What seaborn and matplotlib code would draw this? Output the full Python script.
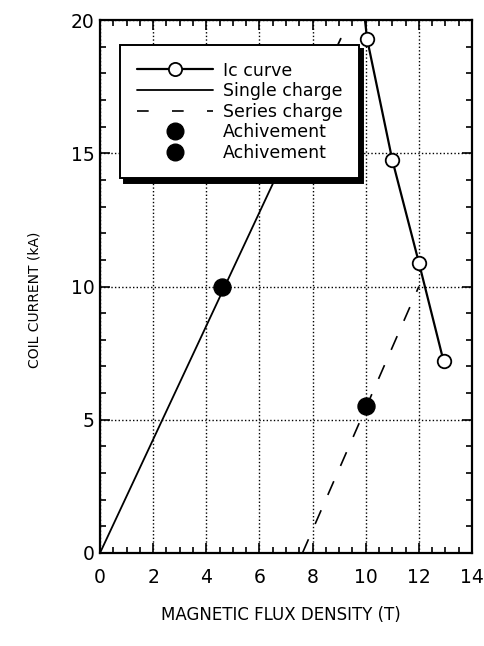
import matplotlib
matplotlib.use("Agg")
import matplotlib.pyplot as plt
import pandas as pd
import seaborn as sns
from matplotlib.lines import Line2D
from matplotlib.ticker import MultipleLocator

# Critical-current (Ic) curve of the coil conductor
ic_curve_b = [9.95, 10.05, 11.0, 12.0, 12.93]
ic_curve_i = [20.2, 19.3, 14.75, 10.9, 7.2]
ic_points_b = [10.05, 11.0, 12.0, 12.93]
ic_points_i = [19.3, 14.75, 10.9, 7.2]

# Load lines: coil charged alone and in series
single_b = [0.0, 9.06]
single_i = [0.0, 19.3]
series_b = [7.62, 12.0]
series_i = [0.0, 10.0]

# Reached operating points
ach_single_b = [4.6]
ach_single_i = [10.0]
ach_series_b = [10.0]
ach_series_i = [5.5]

x_ticks = [0, 2, 4, 6, 8, 10, 12, 14]
y_ticks = [0, 5, 10, 15, 20]
legend_labels = ["Ic curve", "Single charge", "Series charge", "Achivement", "Achivement"]

sns.set_theme(style="white")
plt.rcParams["font.family"] = ["DejaVu Sans"]
plt.rcParams["text.color"] = "black"
plt.rcParams["axes.labelcolor"] = "black"
plt.rcParams["xtick.color"] = "black"
plt.rcParams["ytick.color"] = "black"

fig = plt.figure(figsize=(4.84, 6.46), dpi=100)
ax = fig.add_axes([100 / 484, 1 - 553 / 646, 372 / 484, 533 / 646])

ic_df = pd.DataFrame({"B": ic_curve_b, "I": ic_curve_i})
sns.lineplot(data=ic_df, x="B", y="I", ax=ax, color="black", lw=1.6,
             sort=False, estimator=None, zorder=3)
sns.scatterplot(x=ic_points_b, y=ic_points_i, ax=ax, s=95, marker="o",
                facecolor="white", edgecolor="black", linewidth=1.3, zorder=4)

sns.lineplot(x=single_b, y=single_i, ax=ax, color="black", lw=1.3,
             estimator=None, zorder=3)
sns.lineplot(x=series_b, y=series_i, ax=ax, color="black", lw=1.2,
             estimator=None, zorder=3)
ax.lines[-1].set_linestyle((0, (9, 10)))

sns.scatterplot(x=ach_single_b, y=ach_single_i, ax=ax, s=150, color="black",
                edgecolor="black", zorder=5)
sns.scatterplot(x=ach_series_b, y=ach_series_i, ax=ax, s=150, color="black",
                edgecolor="black", zorder=5)

ax.set_xlim(x_ticks[0], x_ticks[-1])
ax.set_ylim(y_ticks[0], y_ticks[-1])
ax.set_xticks(x_ticks)
ax.set_yticks(y_ticks)
ax.set_xticklabels([str(t) for t in x_ticks])
ax.set_yticklabels([str(t) for t in y_ticks])
ax.xaxis.set_minor_locator(MultipleLocator(0.5))
ax.yaxis.set_minor_locator(MultipleLocator(1))
ax.tick_params(which="both", direction="in", top=True, right=True,
               bottom=True, left=True, color="black", width=1.2)
ax.tick_params(which="major", length=7)
ax.tick_params(which="minor", length=4.5)
ax.tick_params(axis="x", which="major", pad=11, labelsize=13.5, labelcolor="black")
ax.tick_params(axis="y", which="major", pad=4, labelsize=13.5, labelcolor="black")

ax.grid(True, which="major", linestyle=(0, (1, 1.6)), color="black", lw=1.0)
for sp in ax.spines.values():
    sp.set_color("black")
    sp.set_linewidth(1.6)

ax.set_xlabel("MAGNETIC FLUX DENSITY (T)", fontsize=12, color="black")
ax.set_ylabel("COIL CURRENT (kA)", fontsize=10, color="black")
ax.xaxis.set_label_coords(0.487, -0.1)
ax.yaxis.set_label_coords(-0.156, 0.475)

handles = [
    Line2D([], [], color="black", lw=1.6, marker="o", markersize=9.5,
           markerfacecolor="white", markeredgecolor="black", markeredgewidth=1.3),
    Line2D([], [], color="black", lw=1.3),
    Line2D([], [], color="black", lw=1.2, linestyle=(0, (7, 14))),
    Line2D([], [], color="black", lw=0, marker="o", markersize=12),
    Line2D([], [], color="black", lw=0, marker="o", markersize=12),
]
leg = ax.legend(handles, legend_labels, loc="upper left", bbox_to_anchor=(0.054, 0.953),
                borderaxespad=0, frameon=True, fancybox=False,
                shadow={"ox": 3, "oy": -3, "color": "black", "alpha": 1},
                edgecolor="black", framealpha=1, handlelength=4.4, handletextpad=0.58,
                labelspacing=0.15, borderpad=0.95,
                prop={"family": ["DejaVu Sans"], "size": 12.5})
leg.get_frame().set_linewidth(1.4)
for txt in leg.get_texts():
    txt.set_color("black")
leg.set_zorder(10)

fig.savefig("out.png", dpi=100, facecolor="white")
